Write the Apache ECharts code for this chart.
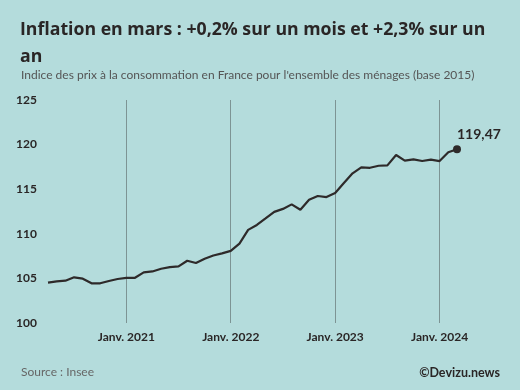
<!DOCTYPE html>
<html>
<head>
<meta charset="utf-8">
<script src="https://cdn.jsdelivr.net/npm/echarts@6/dist/echarts.min.js"></script>
<style>
html,body{margin:0;padding:0;background:#b4dcdc;}
#c{width:520px;height:390px;}
</style>
</head>
<body>
<div id="c"></div>
<script>
const months = [
 '2020-04','2020-05','2020-06','2020-07','2020-08','2020-09','2020-10','2020-11','2020-12',
 '2021-01','2021-02','2021-03','2021-04','2021-05','2021-06','2021-07','2021-08','2021-09','2021-10','2021-11','2021-12',
 '2022-01','2022-02','2022-03','2022-04','2022-05','2022-06','2022-07','2022-08','2022-09','2022-10','2022-11','2022-12',
 '2023-01','2023-02','2023-03','2023-04','2023-05','2023-06','2023-07','2023-08','2023-09','2023-10','2023-11','2023-12',
 '2024-01','2024-02','2024-03'
];
const ipc = [
 104.52,104.67,104.74,105.12,104.97,104.45,104.45,104.71,104.93,
 105.05,105.07,105.67,105.78,106.08,106.27,106.34,106.98,106.72,107.20,107.57,107.80,
 108.08,108.90,110.44,110.99,111.72,112.46,112.79,113.30,112.70,113.82,114.24,114.12,
 114.58,115.70,116.78,117.45,117.40,117.63,117.67,118.83,118.20,118.35,118.16,118.31,
 118.15,119.15,119.47
];
const yTicks = [100,105,110,115,120,125];
const janLabels = {'2021-01':'Janv. 2021','2022-01':'Janv. 2022','2023-01':'Janv. 2023','2024-01':'Janv. 2024'};
const lastLabel = '119,47';

const FONT = 'Lato';
const TFONT = 'Open Sans';
const isJan = (i, v) => !!janLabels[v];
const last = ipc.length - 1;
const seriesData = ipc.map((v, i) => i === last ? {
  value: v, symbol: 'circle', symbolSize: 8,
  label: {show: true, formatter: lastLabel, position: [4, -18], color: '#2a2626',
          fontFamily: FONT, fontWeight: 'bold', fontSize: 14}
} : {value: v});

const chart = echarts.init(document.getElementById('c'), null, {renderer: 'canvas'});
chart.setOption({
  backgroundColor: '#b4dcdc',
  animation: false,
  title: [{
    text: 'Inflation en mars : +0,2% sur un mois et +2,3% sur un\nan',
    left: 15, top: 11,
    textStyle: {fontFamily: TFONT, fontWeight: 'bold', fontSize: 17.7, color: '#2a2626', lineHeight: 27}
  }, {
    text: "Indice des prix à la consommation en France pour l'ensemble des ménages (base 2015)",
    left: 16, top: 64,
    textStyle: {fontFamily: FONT, fontWeight: 'normal', fontSize: 12, color: '#555'}
  }, {
    text: 'Source : Insee',
    left: 16, top: 361,
    textStyle: {fontFamily: FONT, fontWeight: 'normal', fontSize: 12, color: '#666'}
  }, {
    text: '©Devizu.news',
    right: 15, top: 361,
    textStyle: {fontFamily: FONT, fontWeight: 'bold', fontSize: 12.5, color: '#2a2626'}
  }],
  grid: {left: 48, right: 63, top: 100, bottom: 67},
  xAxis: {
    type: 'category', data: months, boundaryGap: false,
    axisLine: {show: false},
    axisTick: {show: false},
    axisLabel: {interval: isJan, formatter: v => janLabels[v] || '', margin: 8,
      fontFamily: FONT, fontWeight: 'bold', fontSize: 12, color: '#2a2626'},
    splitLine: {show: true, interval: isJan, lineStyle: {color: '#7d9494', width: 1}}
  },
  yAxis: {
    type: 'value', min: yTicks[0], max: yTicks[yTicks.length - 1], interval: 5,
    axisLine: {show: false}, axisTick: {show: false}, splitLine: {show: false},
    axisLabel: {align: 'left', margin: 32, fontFamily: FONT, fontWeight: 'bold', fontSize: 12, color: '#2a2626'}
  },
  series: [{
    type: 'line', data: seriesData,
    symbol: 'circle', symbolSize: 0, showAllSymbol: true,
    lineStyle: {color: '#2e2a2a', width: 2.2},
    itemStyle: {color: '#2e2a2a'}
  }]
});
</script>
</body>
</html>
